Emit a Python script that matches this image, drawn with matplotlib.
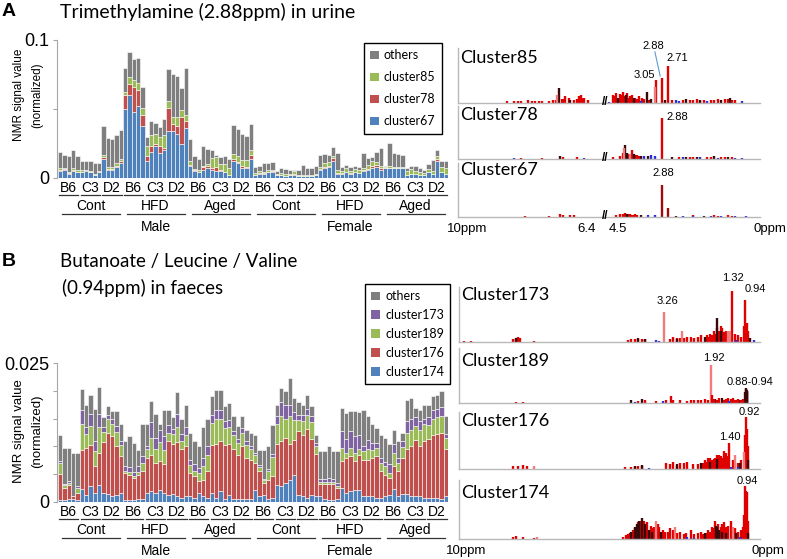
import numpy as np
import matplotlib.pyplot as plt
from matplotlib.patches import Patch

plt.rcParams['font.family'] = ['Liberation Sans', 'DejaVu Sans']

W, H = 787, 559

# ---------------- data ----------------
strains = ['B6', 'C3', 'D2']
diets = ['Cont', 'HFD', 'Aged']
sexes = ['Male', 'Female']
n_rep = 5

# panel A, trimethylamine in urine (values x 1e-3), 18 groups of 5 mice
# group order: Male Cont B6,C3,D2 / Male HFD / Male Aged / Female Cont / Female HFD / Female Aged
a_c67 = [5, 6, 3, 5, 4, 4, 5, 4, 2, 4, 14, 6, 6, 8, 11,
         50, 60, 48, 52, 38, 12, 19, 23, 18, 20, 34, 34, 32, 25, 36,
         9, 5, 4, 6, 7.5, 5.8, 5.3, 5, 4, 2, 12.6, 10.6, 7, 7, 13.5,
         2, 3, 3, 4, 4.6, 2, 2, 1.5, 2, 2.5, 1.5, 1.5, 1.5, 1.5, 2,
         5.8, 7.2, 8, 12.3, 3, 3, 4, 3, 4, 3.5, 5, 6, 7, 8, 6,
         7.2, 7.3, 7.3, 7.3, 7, 2, 3, 3, 2, 2, 4, 3, 12, 4, 3]
a_c78 = [1, 0.5, 0.5, 1, 0.5, 0.5, 0.5, 0.5, 0.3, 0.3, 1, 0.5, 0.5, 1, 1,
         10, 8, 18, 12, 8, 4, 4, 2, 5, 2, 17, 5, 6, 19, 5,
         0.5, 0.5, 0.5, 2, 1.5, 1.7, 2.4, 0.5, 0.5, 0.3, 1.2, 1.2, 2, 1.2, 3,
         0.3, 0.3, 0.3, 0.3, 0.3, 0.2, 0.2, 0.2, 0.2, 0.2, 0.2, 0.2, 0.2, 0.2, 0.2,
         0.5, 1, 0.5, 2, 0.5, 0.3, 0.3, 0.3, 0.3, 0.3, 0.5, 0.5, 2, 1.5, 1,
         0.2, 0.2, 0.2, 0.2, 0.2, 0.2, 0.2, 0.2, 0.2, 0.2, 0.2, 0.2, 2, 0.2, 0.2]
a_c85 = [1, 1, 0.5, 1, 1, 1, 0.5, 0.5, 0.5, 0.7, 2, 1.5, 1.5, 2, 2,
         2, 5, 5, 5, 5, 7, 8, 7, 7, 9, 5, 5, 6, 5, 5,
         3, 1, 1, 1, 1, 7, 7.7, 4.3, 5.3, 5.3, 3.4, 4, 4, 5, 3.6,
         1.2, 1.5, 1.2, 1.5, 1.2, 1, 1.5, 1, 1, 2.7, 0.5, 0.5, 0.5, 0.5, 0.5,
         2, 3, 3, 2, 2, 2, 3, 2, 2.5, 2, 2, 3, 3, 2, 2,
         0.5, 1, 0.5, 0.5, 0.5, 3, 3, 2, 2, 1.5, 2, 2, 2, 4, 4]
a_others = [12, 9.5, 12, 13, 10.5, 7, 6.5, 7, 8.2, 6, 21, 21, 20, 20, 21,
            18, 18, 15, 18, 15, 7, 10, 8, 7, 12, 23, 31, 30, 16, 34,
            15.5, 9.5, 8.5, 14, 11, 5.5, 1.3, 5.2, 6.2, 5.9, 21.2, 19.5, 18.6, 17.5, 18.8,
            4.7, 3.9, 6.1, 4.8, 5.3, 2.1, 3.3, 3.8, 2.6, 0.4, 3.6, 7.2, 4.8, 4.8, 6,
            8.4, 6.2, 5.2, 6.2, 12.5, 2.7, 2.1, 2.7, 1.9, 2.2, 10.5, 5, 3, 7.5, 13,
            0.8, 16.5, 10, 9.4, 9, 2, 2.5, 3.5, 3, 2.1, 3.8, 7.8, 4, 3.8, 4.8]

# panel B, butanoate / leucine / valine in faeces (values x 1e-3)
b_c174 = [0.3, 0.3, 0.5, 0.5, 0.3, 2.3, 1.3, 2.9, 1.7, 3.0, 1.6, 1.4, 1.0, 1.3, 1.7,
          0.4, 0.4, 0.3, 0.6, 0.6, 1.6, 1.9, 1.7, 2.2, 1.7, 1.3, 1.4, 1.0, 0.8, 1.1,
          1.1, 0.8, 1.6, 1.1, 0.7, 1.6, 0.7, 1.9, 0.5, 1.3, 0.6, 0.5, 0.6, 0.5, 0.5,
          2.2, 1.0, 1.3, 0.5, 0.8, 3.0, 2.9, 3.5, 4.0, 4.9, 1.3, 1.1, 0.7, 1.3, 1.1,
          1.0, 0.5, 0.4, 0.3, 0.5, 2.5, 1.6, 1.9, 2.2, 2.2, 1.0, 1.1, 1.1, 0.8, 0.7,
          1.0, 1.2, 2.3, 1.0, 1.5, 1.4, 1.1, 1.1, 1.0, 0.7, 0.8, 0.7, 0.7, 0.5, 1.0]
b_c176 = [4.7, 2.2, 2.5, 0.5, 1.3, 7.1, 8.4, 7.4, 4.8, 5.9, 9.2, 11.0, 10.8, 8.8, 6.6,
          4.8, 4.5, 4.0, 4.3, 4.9, 6.4, 6.6, 5.3, 5.1, 5.1, 9.7, 9.1, 9.8, 8.7, 8.9,
          4.1, 3.8, 2.1, 2.9, 4.8, 8.6, 9.8, 9.1, 9.8, 9.2, 8.9, 8.0, 9.4, 7.5, 7.0,
          4.8, 4.5, 2.1, 3.5, 3.8, 7.5, 8.1, 8.0, 6.5, 6.3, 11.5, 11.0, 12.5, 10.0, 7.5,
          2.3, 2.8, 2.9, 3.0, 2.0, 4.8, 6.3, 6.3, 5.1, 6.3, 6.6, 6.5, 6.8, 7.4, 4.8,
          3.9, 3.1, 4.1, 4.5, 6.4, 8.1, 8.9, 10.1, 9.0, 10.3, 10.5, 11.3, 11.6, 12.0, 8.5]
b_c189 = [2.0, 0.5, 0.5, 0.0, 1.0, 4.7, 2.6, 3.4, 2.7, 4.5, 1.8, 2.5, 2.2, 2.5, 2.0,
          0.3, 0.5, 0.3, 0.5, 1.5, 1.5, 3.0, 2.5, 3.5, 2.5, 1.5, 1.8, 2.7, 1.5, 2.0,
          1.5, 1.0, 1.5, 2.5, 3.0, 4.0, 4.5, 4.0, 3.0, 3.0, 2.5, 2.2, 2.5, 2.3, 2.0,
          1.5, 0.8, 0.5, 1.5, 3.5, 3.5, 4.5, 3.5, 5.0, 3.5, 2.0, 2.5, 2.5, 3.0, 1.5,
          0.3, 0.3, 0.3, 0.3, 0.3, 2.5, 1.0, 1.5, 1.5, 1.0, 1.5, 2.0, 1.5, 1.5, 1.5,
          1.5, 1.0, 2.5, 1.5, 2.0, 3.0, 3.0, 2.5, 3.0, 3.0, 2.5, 3.0, 3.0, 3.0, 2.0]
b_c173 = [0.3, 0.3, 0.2, 0.0, 0.3, 2.4, 1.2, 2.1, 1.7, 2.4, 0.8, 0.7, 1.0, 1.0, 0.6,
          1.0, 0.9, 0.8, 1.0, 1.2, 0.5, 2.8, 2.0, 2.2, 2.5, 1.3, 0.8, 2.4, 1.2, 1.5,
          0.8, 1.2, 1.0, 1.5, 1.5, 1.5, 1.5, 1.5, 1.2, 1.2, 0.8, 0.7, 0.8, 0.7, 0.6,
          0.3, 0.3, 0.3, 0.5, 0.5, 1.5, 2.5, 2.5, 2.0, 1.5, 0.8, 1.0, 1.0, 1.2, 0.5,
          0.6, 0.6, 0.8, 0.6, 0.6, 3.0, 2.5, 3.0, 3.0, 2.5, 1.0, 1.5, 1.2, 1.0, 1.0,
          0.8, 1.5, 1.5, 1.0, 1.0, 2.0, 2.0, 1.5, 1.5, 1.0, 1.5, 1.5, 1.5, 1.5, 0.8]
b_others = [4.8, 6.5, 6.0, 7.9, 6.0, 3.9, 3.9, 3.4, 5.9, 4.8, 1.8, 1.7, 1.4, 2.8, 3.1,
            4.4, 5.5, 5.2, 3.0, 5.8, 4.0, 3.9, 4.3, 1.1, 4.7, 2.7, 2.2, 3.8, 2.8, 4.0,
            5.0, 4.2, 3.8, 5.5, 5.0, 3.3, 3.7, 3.7, 2.7, 3.1, 2.7, 2.2, 2.1, 2.0, 2.4,
            3.3, 2.8, 5.2, 4.0, 5.3, 2.0, 2.5, 2.4, 4.8, 2.5, 2.3, 1.9, 2.6, 1.7, 1.5,
            4.9, 4.9, 5.6, 4.9, 5.7, 4.1, 4.6, 3.6, 4.5, 4.1, 6.4, 4.3, 3.4, 2.6, 4.0,
            4.3, 3.7, 2.6, 3.0, 1.6, 3.9, 3.7, 1.7, 2.1, 2.5, 2.2, 2.5, 2.5, 3.0, 3.1]

# NMR loadings: (ppm, relative intensity) per colour
spec_a = {
    'Cluster85': {
        'red': [(9.2, .03), (9.0, .04), (8.9, .03), (8.8, .04), (8.6, .05), (8.5, .04), (8.4, .04),
                (8.3, .03), (8.2, .03), (8.0, .04), (7.9, .05), (7.8, .05), (7.65, .07), (7.6, .08),
                (7.55, .12), (7.45, .09), (7.3, .06), (7.2, .08), (7.15, .12), (7.1, .15), (7.05, .1),
                (7.0, .1), (6.9, .05), (4.3, .14), (4.25, .12), (4.2, .18), (4.1, .16), (4.05, .15),
                (4.0, .2), (3.95, .12), (3.9, .18), (3.85, .1), (3.8, .12), (3.75, .14), (3.65, .1),
                (3.6, .08), (3.55, .12), (3.45, .1), (3.4, .08), (3.25, .06), (3.05, .41), (2.88, .45),
                (2.71, .68), (2.6, .05), (2.3, .05), (2.1, .06), (2.0, .05), (1.9, .08), (1.8, .04),
                (1.7, .06), (1.5, .05), (1.4, .06), (1.3, .07), (1.1, .07), (1.0, .08), (0.9, .05),
                (0.8, .06)],
        'dark': [(7.72, .27), (7.4, .06), (4.15, .1), (3.92, .14), (3.7, .1), (3.32, .2), (3.2, .08),
                 (2.8, .05), (2.2, .07), (1.8, .06), (1.2, .05), (0.95, .1)],
        'pink': [(7.78, .15), (3.1, .3)],
        'blue': [(4.4, .02), (3.5, .04), (2.5, .06), (2.4, .04), (1.6, .03), (0.6, .03)],
    },
    'Cluster78': {
        'red': [(2.88, .78), (4.0, .12), (3.9, .1), (3.8, .1), (3.75, .17), (3.85, .1), (3.65, .08),
                (3.55, .06), (4.1, .06), (4.3, .04), (3.6, .08), (2.4, .04), (2.1, .03), (2.0, .04),
                (1.6, .03), (1.5, .04), (1.2, .04), (1.1, .03), (0.9, .03), (8.8, .02), (8.2, .02),
                (7.6, .04), (7.2, .03)],
        'dark': [(3.94, .26), (3.88, .12), (3.7, .1), (3.5, .06), (3.3, .05), (2.6, .04), (2.2, .04),
                 (1.9, .04), (1.4, .05), (1.0, .04), (7.7, .05)],
        'pink': [(3.97, .2), (3.8, .1)],
        'blue': [(3.4, .06), (3.2, .08), (3.1, .05), (2.3, .03), (1.8, .03), (1.3, .02), (0.8, .02),
                 (0.6, .02), (9.0, .02), (7.0, .02)],
    },
    'Cluster67': {
        'maroon': [(2.88, .6), (2.71, .16)],
        'red': [(4.2, .04), (4.1, .05), (4.0, .06), (3.95, .07), (3.85, .05), (3.8, .05), (3.75, .04),
                (3.7, .04), (3.65, .05), (3.6, .04), (2.0, .03), (1.4, .03), (1.3, .02), (1.0, .03),
                (0.9, .02), (7.7, .05), (7.6, .03), (7.4, .03), (7.3, .04), (8.7, .02), (8.0, .02)],
        'dark': [(3.9, .05), (3.5, .03), (2.5, .02), (1.7, .02)],
        'blue': [(3.3, .04), (3.1, .03), (2.3, .02), (2.0, .02), (1.5, .02), (1.2, .02), (0.8, .02),
                 (0.5, .02)],
    },
}
spec_b = {
    'Cluster173': {
        'red': [(1.32, .93), (0.94, .76), (0.98, .3), (0.9, .35), (0.86, .2), (1.05, .1), (1.15, .12),
                (1.25, .15), (1.5, .2), (1.55, .18), (1.6, .25), (1.65, .3), (1.7, .2), (1.75, .25),
                (1.8, .15), (1.85, .2), (1.9, .12), (1.95, .15), (2.0, .1), (2.05, .12), (2.2, .12),
                (2.3, .1), (2.4, .08), (2.5, .1), (2.6, .1), (2.7, .08), (2.8, .07), (2.9, .08),
                (3.0, .1), (3.1, .06), (3.8, .05), (3.9, .06), (4.0, .06), (4.1, .05), (4.2, .05),
                (4.3, .04), (7.4, .08), (7.45, .1), (7.5, .06), (7.6, .05), (7.0, .02), (8.8, .01),
                (9.0, .01)],
        'pink': [(3.26, .55), (2.75, .2), (1.45, .2), (1.38, .2)],
        'dark': [(1.76, .44), (1.65, .2), (2.1, .1), (2.9, .06), (4.0, .07), (3.8, .06), (7.52, .08),
                 (0.8, .08)],
        'blue': [(3.5, .03), (3.4, .02), (1.2, .03), (0.7, .03)],
    },
    'Cluster189': {
        'pink': [(1.92, .7)],
        'dark': [(0.92, .25), (0.93, .28), (0.88, .22), (0.89, .2), (0.95, .2), (0.9, .24), (3.9, .08),
                 (4.2, .05), (1.6, .1), (1.8, .08), (1.1, .06)],
        'red': [(1.9, .15), (3.06, .12), (3.0, .05), (2.8, .06), (2.6, .04), (2.5, .06), (2.4, .05),
                (2.3, .05), (2.2, .06), (2.1, .07), (2.0, .06), (1.85, .08), (1.75, .06), (1.7, .1),
                (1.55, .06), (1.5, .08), (1.45, .1), (1.35, .08), (1.3, .1), (1.25, .06), (1.2, .06),
                (1.15, .08), (1.05, .06), (1.0, .08), (3.2, .05), (3.5, .04), (3.8, .05), (4.0, .04),
                (7.5, .02), (7.3, .02)],
        'blue': [(4.1, .02), (3.3, .03), (1.4, .03)],
    },
    'Cluster176': {
        'red': [(0.92, .92), (0.9, .7), (0.95, .6), (0.87, .4), (1.05, .15), (1.15, .1), (1.3, .15),
                (1.40, .45), (1.45, .22), (1.5, .28), (1.55, .31), (1.6, .2), (1.65, .22), (1.7, .25),
                (1.75, .25), (1.8, .2), (1.85, .18), (1.9, .15), (1.95, .2), (2.0, .2), (2.05, .12),
                (2.1, .15), (2.15, .1), (2.3, .08), (2.45, .08), (2.6, .13), (2.7, .1), (2.8, .1),
                (2.9, .06), (3.0, .12), (3.1, .08), (3.2, .1), (3.9, .05), (4.0, .05), (4.1, .04),
                (4.2, .04), (4.4, .03), (7.2, .06), (7.3, .07), (7.45, .06), (7.6, .05)],
        'dark': [(1.75, .18), (1.95, .12), (2.2, .1), (2.9, .08), (3.9, .07), (4.1, .06), (0.85, .15),
                 (1.1, .1)],
        'pink': [(0.98, .3), (1.25, .25), (7.0, .06)],
        'blue': [(3.7, .02), (1.35, .04), (1.15, .03)],
    },
    'Cluster174': {
        'red': [(0.94, .9), (0.92, .82), (0.9, .8), (0.97, .4), (0.87, .3), (1.0, .2), (1.05, .15),
                (1.15, .12), (1.25, .18), (1.35, .3), (1.45, .22), (1.5, .2), (1.55, .28), (1.6, .25),
                (1.65, .2), (1.72, .26), (1.8, .3), (1.85, .18), (1.9, .2), (1.95, .12), (2.0, .15),
                (2.05, .1), (2.15, .08), (2.2, .12), (2.3, .1), (2.4, .08), (2.5, .15), (2.65, .1),
                (2.7, .08), (2.8, .12), (2.9, .1), (3.0, .15), (3.1, .18), (3.15, .12), (3.25, .12),
                (3.3, .15), (3.4, .2), (3.45, .25), (3.55, .2), (3.6, .18), (3.65, .22), (3.75, .28),
                (3.8, .22), (3.85, .3), (3.95, .3), (4.0, .28), (4.1, .18), (4.15, .15), (4.25, .1),
                (4.3, .08), (4.35, .06), (4.45, .04), (7.3, .04), (7.5, .05), (7.6, .03), (7.0, .02)],
        'dark': [(3.9, .36), (3.98, .3), (4.05, .25), (4.1, .2), (4.2, .12), (3.8, .25), (3.7, .15),
                 (3.6, .12), (3.35, .12), (1.78, .22), (1.75, .2), (1.7, .15), (1.6, .12), (1.5, .1),
                 (2.1, .1), (1.2, .1), (0.85, .1)],
        'pink': [(3.5, .3), (2.95, .2), (1.3, .2), (6.9, .03)],
        'blue': [(2.6, .03), (2.4, .02), (1.1, .03)],
    },
}

bar_colors = {'others': '#7f7f7f', 'green': '#9bbb59', 'red': '#c0504d',
              'blue': '#4f81bd', 'purple': '#8064a2'}
spec_colors = {'red': '#e00000', 'dark': '#3a0808', 'pink': '#f07c7c',
               'blue': '#2a2ad8', 'maroon': '#a00c0c'}

fig = plt.figure(figsize=(W / 100, H / 100), dpi=100)


def box(x0, y0, x1, y1):
    return [x0 / W, 1 - y1 / H, (x1 - x0) / W, (y1 - y0) / H]


def ftext(x, y, s, **kw):
    fig.text(x / W, 1 - y / H, s, **kw)


def stacked(rect, series, ymax, yticks, ylabels):
    ax = fig.add_axes(box(*rect))
    x = np.arange(len(series[0][0]))
    bottom = np.zeros(len(x))
    for vals, c in series:
        v = np.array(vals) / 1000.0
        ax.bar(x, v, width=1.0, bottom=bottom, color=c, edgecolor='white', linewidth=0.4)
        bottom += v
    ax.set_xlim(-0.5, len(x) - 0.5)
    ax.set_ylim(0, ymax)
    for s in ['top', 'right', 'bottom']:
        ax.spines[s].set_visible(False)
    ax.spines['left'].set_color('#a6a6a6')
    ax.set_xticks([])
    ax.set_yticks(yticks)
    ax.set_yticklabels(ylabels)
    ax.tick_params(axis='y', length=3, width=0.8, color='#a6a6a6', labelsize=13, pad=2)
    ax.spines['left'].set_position(('outward', 1))

    # group labels under the bars
    axh = rect[3] - rect[1]
    tr = ax.get_xaxis_transform()
    for g in range(18):
        x0 = g * n_rep
        ax.text(x0 + 2, -9.5 / axh, strains[g % 3], transform=tr, ha='center', va='center', fontsize=10)
        ax.plot([x0 - 0.3, x0 + 4.2], [-17 / axh] * 2, transform=tr, clip_on=False, color='#333333', lw=0.9)
    for d in range(6):
        x0 = d * 15
        ax.text(x0 + 7, -28 / axh, diets[d % 3], transform=tr, ha='center', va='center', fontsize=10)
        ax.plot([x0 + 0.4, x0 + 13.8], [-36 / axh] * 2, transform=tr, clip_on=False, color='#333333', lw=0.9)
    for s in range(2):
        x0 = s * 45
        ax.text(x0 + 22, -49 / axh, sexes[s], transform=tr, ha='center', va='center', fontsize=10)
    return ax


def legend(ax, labels, colors, x0, y0, spacing):
    handles = [Patch(facecolor=c, edgecolor='none') for c in colors]
    leg = ax.legend(handles, labels, loc='upper left', bbox_to_anchor=(x0 / W, 1 - y0 / H),
                    bbox_transform=fig.transFigure, borderaxespad=0, frameon=True, fancybox=False,
                    edgecolor='black', framealpha=1, handlelength=0.7, handleheight=0.7,
                    handletextpad=0.4, labelspacing=spacing, borderpad=0.5,
                    prop={'family': 'Lato', 'size': 9})
    leg.get_frame().set_linewidth(1.0)


def squeeze(ppm):
    ppm = np.asarray(ppm, float)
    return np.where(ppm > 4.5, ppm - 1.9, ppm)


def spectrum(rect, name, peaks, xlim, name_y, broken):
    ax = fig.add_axes(box(*rect))
    ax.set_xlim(*xlim)
    ax.set_ylim(0, 1)
    for key, pts in peaks.items():
        p = np.array(pts)
        u = squeeze(p[:, 0]) if broken else p[:, 0]
        ax.vlines(u, 0, p[:, 1], colors=spec_colors[key], lw=1.7)
    for s in ['top', 'right']:
        ax.spines[s].set_visible(False)
    for s in ['left', 'bottom']:
        ax.spines[s].set_color('#b8b8b8')
        ax.spines[s].set_linewidth(1.0)
    ax.set_xticks([])
    ax.set_yticks([])
    ax.patch.set_alpha(0)
    ax.text(0.008, name_y, name, transform=ax.transAxes, ha='left', va='center',
            family='Lato', fontsize=13)
    if broken:
        ax.text(4.5, 0.02, '//', ha='center', va='center', fontsize=8.5, fontweight='bold',
                clip_on=False)
    return ax


# ---------------- panel A ----------------
ftext(2, 12, 'A', fontsize=14, fontweight='bold', ha='left', va='center')
ftext(60, 12, 'Trimethylamine (2.88ppm) in urine', family='Lato', fontsize=14, ha='left', va='center')
axA = stacked((58, 40, 448, 178),
              [(a_c67, bar_colors['blue']), (a_c78, bar_colors['red']),
               (a_c85, bar_colors['green']), (a_others, bar_colors['others'])],
              0.1, [0, 0.05, 0.1], ['0', '', '0.1'])
ftext(19, 95, 'NMR signal value', rotation=90, ha='center', va='center', fontsize=8.5)
ftext(37, 95, '(normalized)', rotation=90, ha='center', va='center', fontsize=8.5)
legend(axA, ['others', 'cluster85', 'cluster78', 'cluster67'],
       [bar_colors['others'], bar_colors['green'], bar_colors['red'], bar_colors['blue']],
       364, 43, 0.8)

xa = (8.71, 0.09)
s85 = spectrum((458, 48, 760, 103), 'Cluster85', spec_a['Cluster85'], xa, 0.82, True)
s85.text(3.14, 1.04, '2.88', ha='center', va='center', fontsize=8, clip_on=False)
s85.plot([3.09, 2.94], [0.93, 0.49], color='#5b9bd5', lw=0.8, clip_on=False)
s85.text(2.46, 0.82, '2.71', ha='center', va='center', fontsize=8)
s85.text(3.40, 0.51, '3.05', ha='center', va='center', fontsize=8)
s78 = spectrum((458, 106, 760, 159), 'Cluster78', spec_a['Cluster78'], xa, 0.83, True)
s78.text(2.46, 0.79, '2.88', ha='center', va='center', fontsize=8)
s67 = spectrum((458, 163, 760, 217), 'Cluster67', spec_a['Cluster67'], xa, 0.87, True)
s67.text(2.86, 0.81, '2.88', ha='center', va='center', fontsize=8)
ftext(467, 229, '10ppm', ha='center', va='center', fontsize=9.5)
ftext(587, 229, '6.4', ha='center', va='center', fontsize=9.5)
ftext(618, 229, '4.5', ha='center', va='center', fontsize=9.5)
ftext(770, 229, '0ppm', ha='center', va='center', fontsize=9.5)

# ---------------- panel B ----------------
ftext(2, 262, 'B', fontsize=14, fontweight='bold', ha='left', va='center')
ftext(60, 262, 'Butanoate / Leucine / Valine', family='Lato', fontsize=13.5, ha='left', va='center')
ftext(62, 288, '(0.94ppm) in faeces', family='Lato', fontsize=13.5, ha='left', va='center')
axB = stacked((58, 363, 448, 502),
              [(b_c174, bar_colors['blue']), (b_c176, bar_colors['red']),
               (b_c189, bar_colors['green']), (b_c173, bar_colors['purple']),
               (b_others, bar_colors['others'])],
              0.025, [0, 0.005, 0.01, 0.015, 0.02, 0.025], ['0', '', '', '', '', '0.025'])
ftext(19, 431, 'NMR signal value', rotation=90, ha='center', va='center', fontsize=9.5)
ftext(37, 431, '(normalized)', rotation=90, ha='center', va='center', fontsize=9.5)
legend(axB, ['others', 'cluster173', 'cluster189', 'cluster176', 'cluster174'],
       [bar_colors['others'], bar_colors['purple'], bar_colors['green'], bar_colors['red'],
        bar_colors['blue']], 365, 284, 0.55)

xb = (9.14, 0.52)
t173 = spectrum((459, 287, 760, 342), 'Cluster173', spec_b['Cluster173'], xb, 0.85, False)
t173.text(1.29, 1.16, '1.32', ha='center', va='center', fontsize=8, clip_on=False)
t173.text(0.66, 0.96, '0.94', ha='center', va='center', fontsize=8, clip_on=False)
t173.text(3.18, 0.75, '3.26', ha='center', va='center', fontsize=8)
t189 = spectrum((459, 348, 760, 403), 'Cluster189', spec_b['Cluster189'], xb, 0.76, False)
t189.text(1.83, 0.82, '1.92', ha='center', va='center', fontsize=8)
t189.text(0.80, 0.38, '0.88-0.94', ha='center', va='center', fontsize=8, clip_on=False)
t176 = spectrum((459, 412, 760, 469), 'Cluster176', spec_b['Cluster176'], xb, 0.84, False)
t176.text(0.83, 1.0, '0.92', ha='center', va='center', fontsize=8, clip_on=False)
t176.text(1.38, 0.56, '1.40', ha='center', va='center', fontsize=8)
t174 = spectrum((459, 480, 760, 539), 'Cluster174', spec_b['Cluster174'], xb, 0.78, False)
t174.text(0.89, 0.98, '0.94', ha='center', va='center', fontsize=8, clip_on=False)
ftext(466, 551, '10ppm', ha='center', va='center', fontsize=9.5)
ftext(768, 551, '0ppm', ha='center', va='center', fontsize=9.5)

fig.savefig('out.png', dpi=100)
